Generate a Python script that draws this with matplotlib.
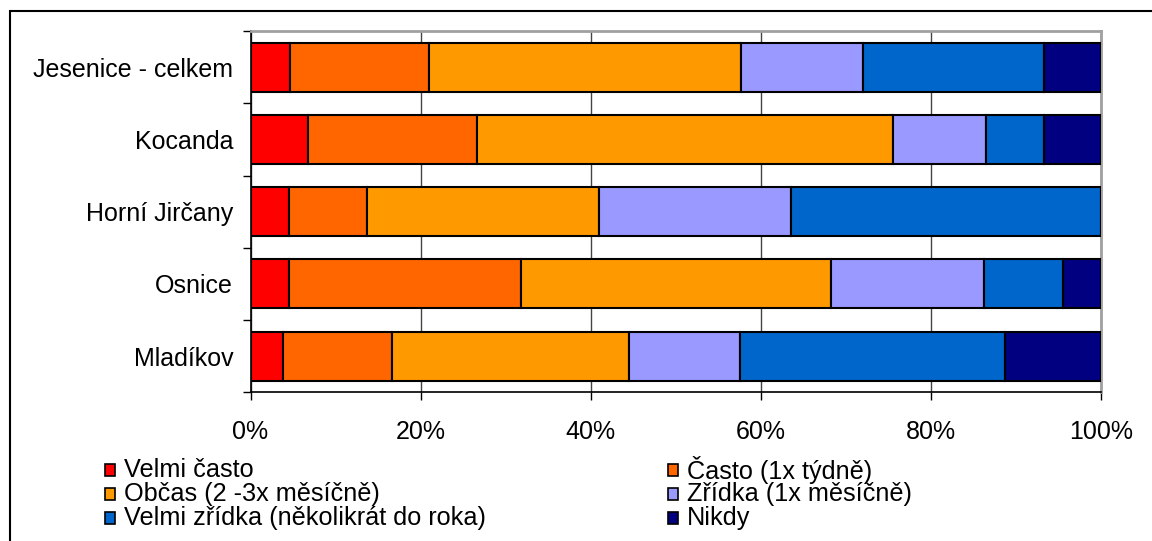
import numpy as np
from matplotlib import pyplot as plt
from matplotlib.patches import Rectangle

plt.rcParams['font.family'] = ['Liberation Sans', 'DejaVu Sans']

# ***** data (percent of answers) *****#
places = ['Jesenice - celkem', 'Kocanda', 'Horní Jirčany', 'Osnice', 'Mladíkov']
answers = ['Velmi často', 'Často (1x týdně)', 'Občas (2 -3x měsíčně)',
           'Zřídka (1x měsíčně)', 'Velmi zřídka (několikrát do roka)', 'Nikdy']
velmi_casto = [4.7, 6.8, 4.5, 4.5, 3.8]
casto = [16.3, 19.8, 9.2, 27.3, 12.8]
obcas = [36.7, 49.0, 27.3, 36.5, 27.9]
zridka = [14.3, 10.9, 22.6, 18.0, 13.1]
velmi_zridka = [21.3, 6.8, 36.4, 9.3, 31.2]
nikdy = [6.7, 6.7, 0.0, 4.4, 11.2]
colors = ['#FF0000', '#FF6600', '#FF9900', '#9999FF', '#0066CC', '#000080']

series = [velmi_casto, casto, obcas, zridka, velmi_zridka, nikdy]

fig = plt.figure(figsize=(11.52, 5.41), dpi=100)
ax = fig.add_axes([250.5 / 1152, 1 - 392.3 / 541, 850.2 / 1152, 361.3 / 541])

y = np.arange(len(places))
left = np.zeros(len(places))
for vals, col, lab in zip(series, colors, answers):
    vals = np.array(vals)
    ax.barh(y, vals, left=left, height=0.68, color=col, edgecolor='black',
            linewidth=1.5, label=lab, zorder=3)
    left = left + vals

ax.set_xlim(0, 100)
ax.set_ylim(4.5, -0.5)

ax.set_xticks([0, 20, 40, 60, 80, 100])
ax.set_xticklabels(['%d%%' % v for v in [0, 20, 40, 60, 80, 100]], fontsize=18)
ax.tick_params(axis='x', direction='out', length=5.8, width=1, pad=14)
ax.xaxis.grid(True, color='#444444', linewidth=1, zorder=0)

ax.set_yticks(y)
ax.set_yticklabels(places, fontsize=18)
ax.set_yticks(np.arange(-0.5, 5, 1), minor=True)
ax.tick_params(axis='y', which='major', length=0, pad=12.5)
ax.tick_params(axis='y', which='minor', direction='out', length=5.8, width=1)

ax.spines['left'].set_color('black')
ax.spines['bottom'].set_color('black')
ax.spines['left'].set_linewidth(1.2)
ax.spines['bottom'].set_linewidth(1.2)
ax.spines['top'].set_color('#A0A0A0')
ax.spines['right'].set_color('#A0A0A0')
ax.spines['top'].set_linewidth(2)
ax.spines['right'].set_linewidth(2)

# ***** legend, two columns, filled row by row *****#
col_x = [105, 668]
row_y = [470, 494, 518]
for i, (col, lab) in enumerate(zip(colors, answers)):
    px = col_x[i % 2]
    py = row_y[i // 2]
    fig.add_artist(Rectangle((px / 1152, 1 - (py + 6) / 541), 10 / 1152, 12 / 541,
                             transform=fig.transFigure, facecolor=col,
                             edgecolor='black', linewidth=1.2))
    fig.text((px + 19) / 1152, 1 - py / 541, lab, fontsize=18.2, va='center', ha='left')

# outer frame (runs off the right and bottom edge)
fig.add_artist(Rectangle((9.5 / 1152, -0.2), 1.5, 1.2 - 11 / 541,
                         transform=fig.transFigure, fill=False,
                         edgecolor='black', linewidth=1.5))

plt.savefig('out.png', dpi=100)
plt.close()
